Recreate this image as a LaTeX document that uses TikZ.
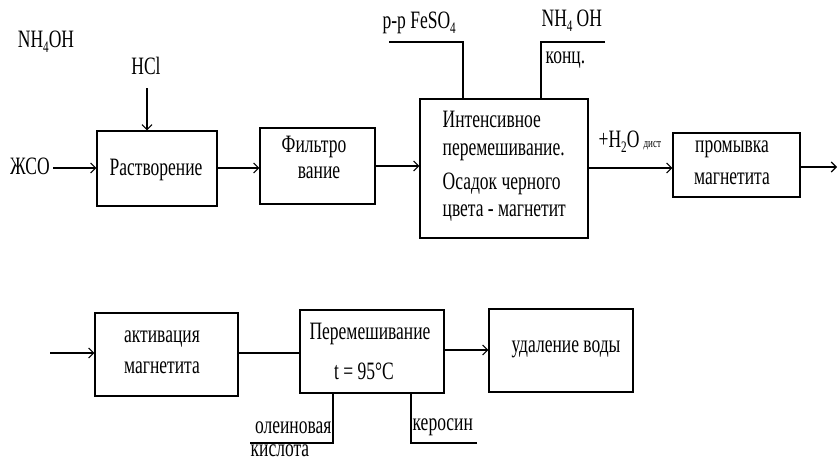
\documentclass[tikz,border=0pt]{standalone}
\usepackage{fontspec}
\setmainfont[FakeStretch=0.7]{Liberation Serif}
\usetikzlibrary{arrows.meta}
\newcommand{\subt}[1]{\raisebox{-5pt}{\fontsize{16}{16}\selectfont #1}}
\begin{document}
\begin{tikzpicture}[x=1pt,y=-1pt,line width=1.3pt,
  blk/.style={draw,inner sep=0pt},
  txt/.style={font=\fontsize{25}{27}\selectfont,inner sep=0pt},
  arr/.style={-{Straight Barb[length=5pt,width=10pt,line width=1.1pt]}}]
\useasboundingbox (0,0) rectangle (838,463);
% boxes
\node[blk,minimum width=120pt,minimum height=75pt] (rast) at (157,168.5) {};
\node[blk,minimum width=115pt,minimum height=76pt] (filt) at (317.5,166) {};
\node[blk,minimum width=168pt,minimum height=139pt] (intens) at (504,168.5) {};
\node[blk,minimum width=127pt,minimum height=64pt] (prom) at (736.5,165) {};
\node[blk,minimum width=143pt,minimum height=83pt] (activ) at (166.5,354.5) {};
\node[blk,minimum width=144pt,minimum height=83pt] (perem) at (372,351.5) {};
\node[blk,minimum width=144pt,minimum height=83pt] (udal) at (561,350.5) {};
% box texts
\node[txt] (trast) at (156,170) {Растворение};
\node[txt] (tfilt1) at (314,147) {Фильтро};
\node[txt] (tfilt2) at (319,173) {вание};
\node[txt,anchor=west] (ti1) at (442,119) {Интенсивное};
\node[txt,anchor=west] (ti2) at (442,152) {перемешивание.};
\node[txt,anchor=west] (ti3) at (442,184) {Осадок черного};
\node[txt,anchor=west] (ti4) at (442,213) {цвета - магнетит};
\node[txt] (tp1) at (732,149) {промывка};
\node[txt] (tp2) at (732,179) {магнетита};
\node[txt] (ta1) at (162,339) {активация};
\node[txt] (ta2) at (162,368) {магнетита};
\node[txt] (tm1) at (370,334) {Перемешивание};
\node[txt] (tm2) at (364,371) {t = 95°C};
\node[txt] (tu) at (566,349) {удаление воды};
% free labels
\node[txt] (nh4a) at (46,42) {NH\subt{4}OH};
\node[txt] (hcl) at (146,66) {HCl};
\node[txt] (zso) at (30,166) {ЖСО};
\node[txt,anchor=west] (feso) at (382,23) {р-р FeSO\subt{4}};
\node[txt,anchor=west] (nh4b) at (541,21) {NH\subt{4}\,OH};
\node[txt,anchor=west] (konc) at (545,60) {конц.};
\node[txt,anchor=west] (h2o) at (598,142) {+H\subt{2}O\,{\fontsize{13}{13}\selectfont дист}};
\node[txt,anchor=east] (olein) at (332,428) {олеиновая};
\node[txt,anchor=west] (kisl) at (250,451) {кислота};
\node[txt,anchor=west] (keros) at (412,427) {керосин};
% coordinates
\coordinate (hcltop) at (147,88);
\coordinate (fesoL) at (389,42);
\coordinate (fesoR) at (463,42);
\coordinate (nhL) at (541,42);
\coordinate (nhR) at (605,42);
\coordinate (oleinB) at (333,443);
\coordinate (oleinL) at (250,443);
\coordinate (kerB) at (411,443);
\coordinate (kerR) at (477,443);
\coordinate (outR) at (837,167);
\coordinate (inL) at (50,353);
% connectors
\draw[arr] (hcltop) -- (hcltop |- rast.north);
\draw[arr] (53,168) -- (rast.west |- 0,168);
\draw[arr] (rast.east |- 0,168) -- (filt.west |- 0,168);
\draw[arr] (filt.east |- 0,166) -- (intens.west |- 0,166);
\draw[arr] (intens.east |- 0,168) -- (prom.west |- 0,168);
\draw[arr] (prom.east |- outR) -- (outR);
\draw (fesoL) -- (fesoR) -- (fesoR |- intens.north);
\draw (nhR) -- (nhL) -- (nhL |- intens.north);
\draw[arr] (inL) -- (activ.west |- inL);
\draw (activ.east |- 0,353) -- (perem.west |- 0,353);
\draw[arr] (perem.east |- 0,350) -- (udal.west |- 0,350);
\draw (oleinL) -- (oleinB) -- (oleinB |- perem.south);
\draw (kerR) -- (kerB) -- (kerB |- perem.south);
\end{tikzpicture}
\end{document}
